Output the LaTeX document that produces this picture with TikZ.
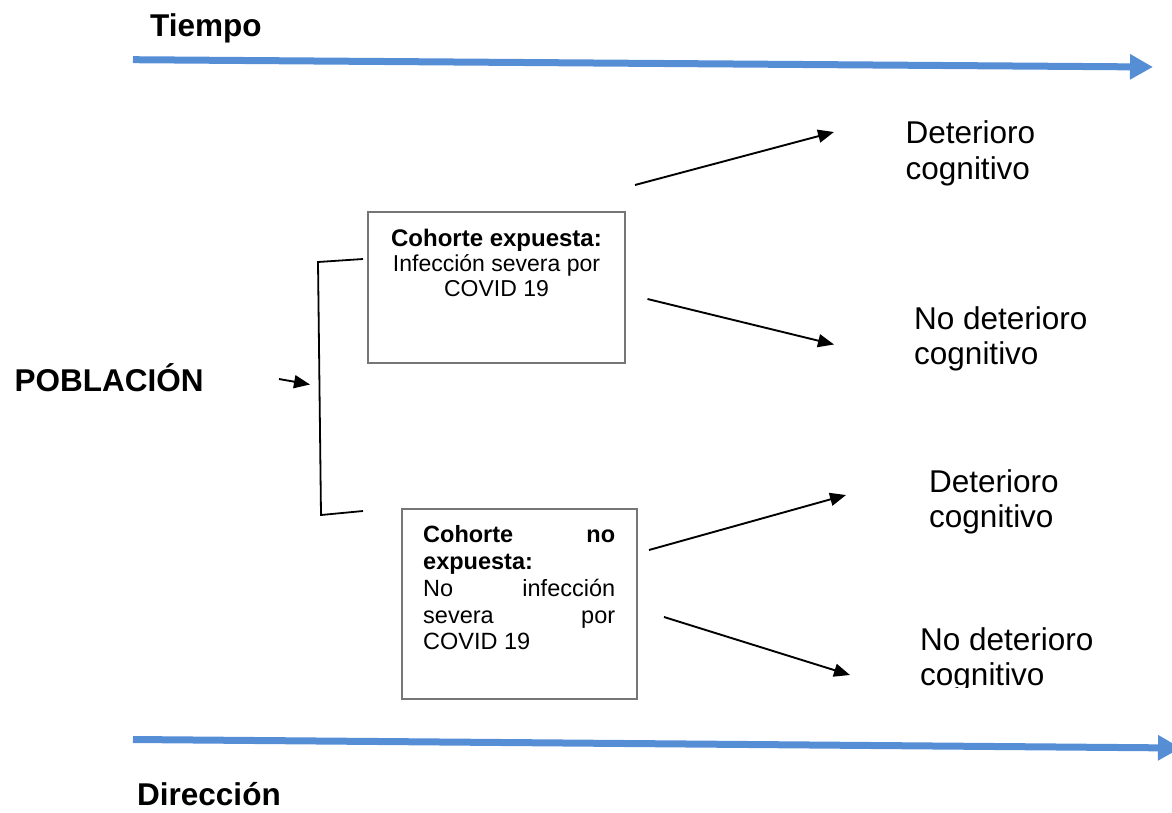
\documentclass[tikz,border=0pt]{standalone}
\usepackage{fontspec}
\setmainfont{Liberation Sans}
\usetikzlibrary{arrows.meta}
\definecolor{axisblue}{RGB}{85,142,213}
\definecolor{boxgrey}{RGB}{118,118,118}
\begin{document}
\begin{tikzpicture}[x=1pt,y=-1pt,
  big/.style={font=\fontsize{31.5}{35.5}\selectfont, inner sep=0pt, anchor=base west},
  bigbold/.style={font=\fontsize{31.5}{35.5}\selectfont\bfseries, inner sep=0pt, anchor=base west},
  conn/.style={line width=1.9pt, -{Triangle[length=16pt,width=13pt]}},
  axis/.style={line width=7pt, axisblue, -{Triangle[length=23pt,width=24pt]}},
  cohort/.style={draw=boxgrey, line width=2pt, inner sep=0pt},
  bracket/.style={line width=1.8pt, line join=miter}
]
\useasboundingbox (0,0) rectangle (1172,812);

% axes
\coordinate (t0) at (133,59.7);
\coordinate (t1) at (1153,67);
\draw[axis] (t0) -- (t1);
\coordinate (d0) at (133,739.5);
\coordinate (d1) at (1181,748);
\draw[axis] (d0) -- (d1);

\node[bigbold] (tiempo) at (150,36) {Tiempo};
\node[bigbold] (direccion) at (137,805) {Dirección};
\node[bigbold] (poblacion) at (14.5,391) {POBLACIÓN};

% small arrow and bracket
\coordinate (p0) at (279,379);
\coordinate (p1) at (310,384.5);
\draw[conn] (p0) -- (p1);
\coordinate (b1) at (363,259);
\coordinate (b2) at (318,262);
\coordinate (b3) at (321,515);
\coordinate (b4) at (363,511);
\draw[bracket] (b1) -- (b2) -- (b3) -- (b4);

% cohort boxes
\node[cohort, minimum width=257pt, minimum height=151pt] (expbox) at (496.5,287.5) {};
\node[inner sep=0pt, anchor=base] (exptext) at (496.5,246.7)
  {\fontsize{23}{25}\selectfont\parbox[t]{250pt}{\centering{\fontsize{24}{25}\selectfont\textbf{Cohorte expuesta:}}\\Infección severa por\\COVID 19}};

\node[cohort, minimum width=235pt, minimum height=190pt] (noexpbox) at (519.5,604) {};
\node[inner sep=0pt, anchor=base west] (noexptext) at (423,542.7)
  {\fontsize{23.5}{26.8}\selectfont\parbox[t]{192pt}{\textbf{Cohorte\hfill no}\\\textbf{expuesta:}\\No\hfill infección\\severa\hfill por\\COVID 19}};

% outcomes
\node[big] (out1) at (905.5,143.5) {\parbox[t]{220pt}{Deterioro\\cognitivo}};
\node[big] (out2) at (914,329) {\parbox[t]{220pt}{No deterioro\\cognitivo}};
\node[big] (out3) at (929,492) {\parbox[t]{220pt}{Deterioro\\cognitivo}};
\begin{scope}
  \clip (880,600) rectangle (1172,687.5);
  \node[big] (out4) at (920,650) {\parbox[t]{220pt}{No deterioro\\cognitivo}};
\end{scope}

% connectors
\coordinate (a1s) at (635,185);  \coordinate (a1e) at (834,132);
\coordinate (a2s) at (647.5,299); \coordinate (a2e) at (834,344.5);
\coordinate (a3s) at (649,550);  \coordinate (a3e) at (846,495);
\coordinate (a4s) at (664,617);  \coordinate (a4e) at (850,675);
\draw[conn] (a1s) -- (a1e);
\draw[conn] (a2s) -- (a2e);
\draw[conn] (a3s) -- (a3e);
\draw[conn] (a4s) -- (a4e);
\end{tikzpicture}
\end{document}
